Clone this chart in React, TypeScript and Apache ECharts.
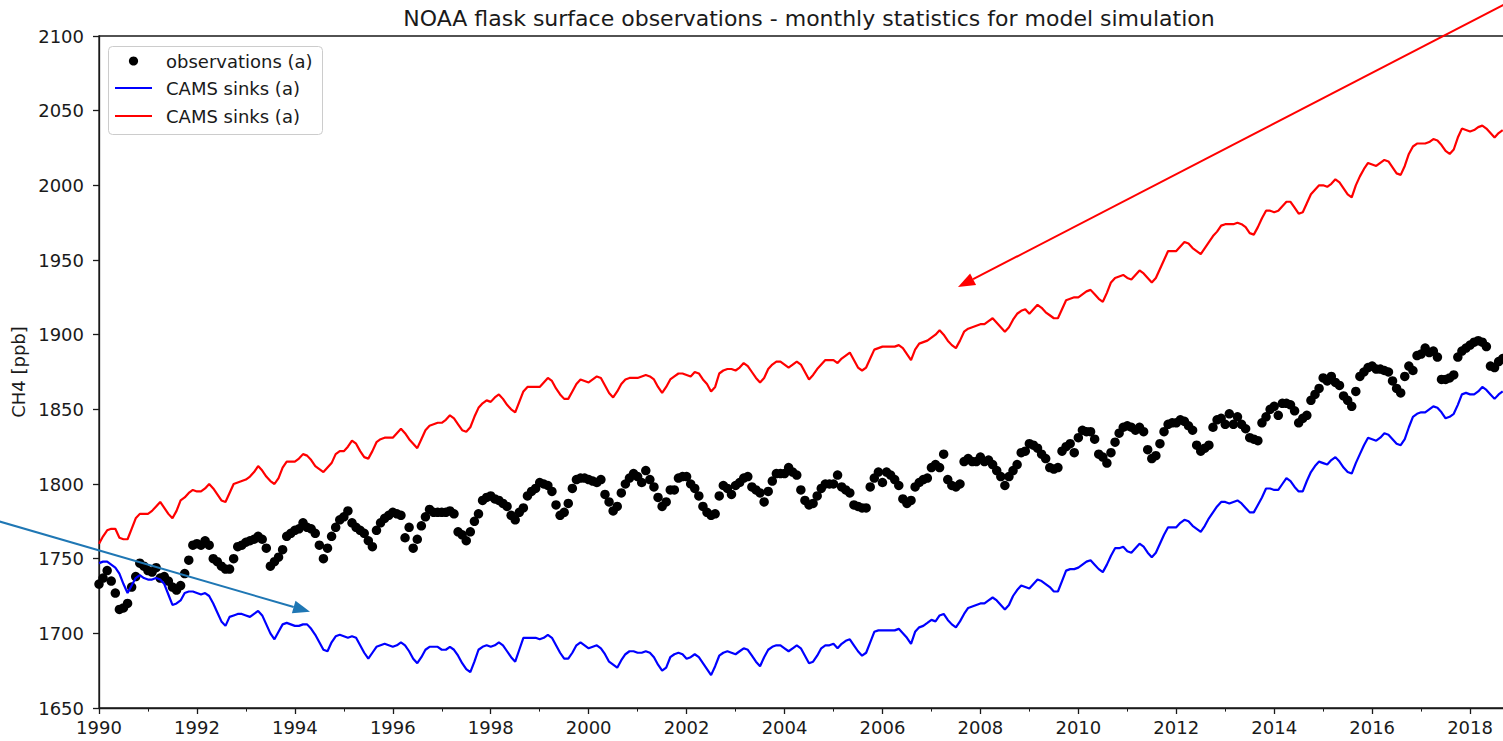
import React, { useEffect, useRef } from "react";
import * as echarts from "echarts";

const FONT = '"DejaVu Sans", "Liberation Sans", sans-serif';
const INK = "#1a1a1a";

const TITLE = "NOAA flask surface observations - monthly statistics for model simulation";
const Y_NAME = "CH4 [ppb]";
const LEGEND_LABELS = ["observations (a)", "CAMS sinks (a)", "CAMS sinks (a)"];

// axis extents (decimal years, ppb)
const X_RANGE = [1990, 2020];
const X_TICK_STEP = 2;
const X_LAST_LABEL = 2018;
const Y_RANGE = [1650, 2100];
const Y_TICK_STEP = 50;

// monthly values, first entry = January 1990
const START_YEAR = 1990;

const observations = [
  1733, 1737, 1742, 1735, 1727, 1716, 1717, 1720, 1731, 1738, 1747, 1745,
  1742, 1741, 1744, 1737, 1738, 1735, 1731, 1729, 1732, 1740, 1749, 1759,
  1760, 1759, 1762, 1759, 1750, 1748, 1745, 1743, 1743, 1750, 1758, 1759,
  1761, 1762, 1763, 1765, 1763, 1757, 1745, 1748, 1751, 1756, 1765, 1767,
  1769, 1770, 1774, 1771, 1770, 1767, 1759, 1750, 1757, 1765, 1771, 1776,
  1778, 1782, 1774, 1771, 1769, 1767, 1762, 1758, 1769, 1774, 1777,
  1779, 1781, 1780, 1779, 1764, 1771, 1757, 1763, 1772, 1778, 1783, 1781,
  1781, 1781, 1781, 1782, 1780, 1768, 1766, 1762, 1768, 1775, 1780, 1789,
  1791, 1792, 1790, 1789, 1787, 1785, 1779, 1776, 1781, 1784, 1792, 1795,
  1797, 1801, 1800, 1799, 1795, 1786, 1779, 1781, 1787, 1797, 1803, 1804,
  1804, 1803, 1802, 1801, 1803, 1793, 1788, 1782, 1785, 1794, 1800, 1804,
  1807, 1805, 1801, 1809, 1803, 1798, 1791, 1785, 1788, 1796, 1796, 1804,
  1805, 1805, 1800, 1797, 1792, 1785, 1781, 1779, 1780, 1792, 1799, 1797,
  1793, 1799, 1801, 1804, 1805, 1798, 1796, 1794, 1788, 1795, 1802, 1807,
  1807, 1807, 1811, 1808, 1806, 1796, 1789, 1786, 1787, 1792, 1797, 1800,
  1800, 1800, 1806, 1798, 1796, 1794, 1786, 1785, 1784, 1784, 1798, 1804,
  1808, 1801, 1808, 1806, 1803, 1799, 1790, 1787, 1789, 1798, 1801, 1803,
  1804, 1811, 1813, 1811, 1820, 1803, 1799, 1798, 1800, 1815, 1817,
  1815, 1815, 1818, 1815, 1816, 1813, 1809, 1805, 1799, 1805, 1809, 1813,
  1821, 1822, 1827, 1826, 1824, 1820, 1817, 1811, 1810, 1811, 1822, 1825,
  1827, 1821, 1831, 1836, 1835, 1835, 1830, 1820, 1818, 1814, 1821, 1828,
  1834, 1838, 1839, 1838, 1836, 1838, 1835, 1823, 1817, 1819, 1827, 1835,
  1840, 1841, 1841, 1843, 1842, 1839, 1836, 1826, 1822, 1824, 1826, 1838,
  1843, 1844, 1840, 1847, 1840, 1845, 1840, 1837, 1831, 1830, 1829, 1841,
  1845, 1850, 1852, 1846, 1854, 1854, 1853, 1849, 1841, 1844, 1846, 1856,
  1860, 1864, 1871, 1869, 1872, 1868, 1866, 1859, 1856, 1852, 1862, 1872,
  1875, 1878, 1879, 1877, 1877, 1876, 1875, 1869, 1864, 1861, 1872, 1879,
  1876, 1886, 1887, 1891, 1888, 1889, 1885, 1870, 1870, 1871, 1873, 1885,
  1889, 1891, 1893, 1895, 1896, 1895, 1892, 1879, 1878, 1882, 1884,
];

const camsSinksBlue = [
  1747, 1748, 1748, 1746, 1744, 1740, 1733, 1727, 1732, 1737, 1739, 1737,
  1736, 1736, 1737, 1736, 1733, 1726, 1719, 1720, 1722, 1727, 1728, 1728,
  1727, 1726, 1727, 1725, 1720, 1714, 1708, 1705, 1711, 1712, 1713, 1713,
  1712, 1711, 1713, 1715, 1712, 1706, 1700, 1696, 1701, 1706, 1707, 1706,
  1705, 1705, 1706, 1706, 1703, 1699, 1694, 1689, 1688, 1694, 1698, 1699,
  1698, 1697, 1698, 1697, 1692, 1687, 1683, 1687, 1691, 1692, 1693,
  1692, 1691, 1692, 1694, 1692, 1688, 1683, 1680, 1684, 1689, 1691, 1691,
  1691, 1689, 1689, 1691, 1689, 1685, 1680, 1676, 1674, 1681, 1689, 1691,
  1692, 1691, 1692, 1694, 1692, 1688, 1684, 1681, 1689, 1697, 1697, 1697,
  1697, 1696, 1697, 1699, 1697, 1692, 1687, 1683, 1683, 1687, 1692, 1694,
  1692, 1690, 1691, 1692, 1690, 1686, 1681, 1679, 1677, 1682, 1686, 1688,
  1688, 1687, 1687, 1688, 1687, 1684, 1679, 1675, 1677, 1684, 1686, 1687,
  1686, 1683, 1684, 1686, 1684, 1680, 1676, 1672, 1678, 1685, 1687, 1688,
  1687, 1686, 1688, 1690, 1689, 1685, 1681, 1678, 1684, 1689, 1691, 1692,
  1692, 1690, 1688, 1690, 1692, 1690, 1685, 1680, 1681, 1685, 1690, 1692,
  1692, 1693, 1690, 1693, 1695, 1696, 1692, 1688, 1685, 1687, 1694, 1701,
  1702, 1702, 1702, 1702, 1702, 1703, 1700, 1697, 1693, 1701, 1704, 1705,
  1707, 1709, 1708, 1712, 1713, 1709, 1706, 1704, 1708, 1713, 1717,
  1718, 1719, 1720, 1720, 1722, 1724, 1722, 1719, 1716, 1719, 1725, 1729,
  1732, 1731, 1730, 1733, 1736, 1735, 1733, 1731, 1728, 1728, 1735, 1742,
  1743, 1743, 1744, 1746, 1748, 1749, 1746, 1743, 1741, 1746, 1752, 1757,
  1757, 1758, 1755, 1754, 1757, 1760, 1758, 1754, 1751, 1754, 1760, 1766,
  1771, 1771, 1771, 1774, 1776, 1775, 1772, 1770, 1768, 1772, 1777, 1781,
  1785, 1788, 1788, 1787, 1788, 1789, 1787, 1784, 1781, 1781, 1786, 1791,
  1797, 1797, 1796, 1796, 1800, 1804, 1802, 1798, 1795, 1795, 1802, 1808,
  1812, 1815, 1814, 1813, 1816, 1818, 1815, 1811, 1808, 1807, 1814, 1820,
  1826, 1831, 1830, 1829, 1831, 1834, 1833, 1830, 1827, 1826, 1830, 1838,
  1845, 1847, 1848, 1848, 1850, 1852, 1851, 1848, 1844, 1845, 1847, 1853,
  1860, 1861, 1860, 1860, 1862, 1865, 1863, 1860, 1857, 1860, 1862,
];

const camsSinksRed = [
  1760, 1765, 1769, 1770, 1770, 1764, 1763, 1763, 1770, 1777, 1780, 1780,
  1780, 1782, 1785, 1788, 1784, 1780, 1777, 1782, 1789, 1791, 1794, 1796,
  1795, 1795, 1797, 1800, 1797, 1793, 1789, 1788, 1794, 1800, 1801, 1802,
  1803, 1805, 1808, 1812, 1809, 1805, 1802, 1800, 1804, 1811, 1815, 1815,
  1815, 1817, 1820, 1819, 1816, 1812, 1810, 1808, 1811, 1814, 1820, 1822,
  1822, 1825, 1829, 1827, 1822, 1818, 1817, 1822, 1828, 1830, 1831,
  1831, 1831, 1834, 1837, 1834, 1830, 1827, 1824, 1830, 1836, 1839, 1840,
  1841, 1841, 1843, 1846, 1844, 1840, 1836, 1835, 1838, 1845, 1851, 1854,
  1856, 1855, 1858, 1860, 1857, 1853, 1850, 1848, 1855, 1862, 1865, 1865,
  1865, 1865, 1868, 1871, 1869, 1864, 1860, 1857, 1857, 1862, 1867, 1870,
  1869, 1868, 1870, 1872, 1871, 1866, 1861, 1858, 1862, 1867, 1870, 1871,
  1871, 1871, 1872, 1873, 1872, 1870, 1865, 1861, 1865, 1870, 1872, 1874,
  1874, 1873, 1872, 1875, 1874, 1870, 1867, 1862, 1865, 1874, 1876, 1877,
  1877, 1876, 1878, 1881, 1879, 1875, 1871, 1868, 1871, 1877, 1880, 1882,
  1882, 1880, 1878, 1880, 1882, 1880, 1875, 1870, 1873, 1877, 1880, 1883,
  1883, 1883, 1881, 1884, 1886, 1888, 1883, 1878, 1876, 1878, 1884, 1890,
  1891, 1892, 1892, 1892, 1892, 1893, 1891, 1887, 1883, 1890, 1894, 1895,
  1896, 1898, 1900, 1903, 1900, 1896, 1893, 1891, 1896, 1902, 1904,
  1905, 1906, 1907, 1907, 1909, 1911, 1908, 1905, 1902, 1905, 1910, 1914,
  1916, 1917, 1914, 1917, 1920, 1918, 1915, 1913, 1911, 1911, 1917, 1923,
  1924, 1925, 1925, 1927, 1929, 1930, 1927, 1924, 1922, 1928, 1935, 1938,
  1939, 1940, 1938, 1937, 1940, 1943, 1941, 1938, 1935, 1938, 1944, 1950,
  1956, 1956, 1956, 1959, 1962, 1961, 1958, 1956, 1954, 1958, 1962, 1966,
  1969, 1973, 1974, 1974, 1974, 1975, 1974, 1972, 1968, 1967, 1972, 1978,
  1983, 1983, 1982, 1983, 1986, 1989, 1989, 1985, 1981, 1982, 1988, 1994,
  1997, 2000, 2000, 1999, 2001, 2004, 2002, 1998, 1994, 1992, 2000, 2006,
  2011, 2015, 2014, 2013, 2015, 2017, 2016, 2012, 2008, 2007, 2013, 2021,
  2026, 2028, 2028, 2028, 2029, 2031, 2030, 2027, 2023, 2021, 2024, 2032,
  2038, 2037, 2036, 2037, 2039, 2040, 2038, 2035, 2032, 2035, 2037,
];

// pair each monthly value with its decimal-year position
const toSeries = (values: number[]) =>
  values.map((v, i) => [START_YEAR + i / 12, v]);

// arrowhead triangle from tail/tip, in pixels
function arrowHead(tail: number[], tip: number[], len: number, half: number) {
  const dx = tip[0] - tail[0];
  const dy = tip[1] - tail[1];
  const d = Math.hypot(dx, dy);
  const ux = dx / d;
  const uy = dy / d;
  const bx = tip[0] - ux * len;
  const by = tip[1] - uy * len;
  return {
    base: [bx, by],
    points: [
      [tip[0], tip[1]],
      [bx - uy * half, by + ux * half],
      [bx + uy * half, by - ux * half],
    ],
  };
}

function arrow(tail: number[], tip: number[], color: string) {
  const head = arrowHead(tail, tip, 17, 6.5);
  return [
    {
      type: "line",
      z: 200,
      shape: { x1: tail[0], y1: tail[1], x2: head.base[0], y2: head.base[1] },
      style: { stroke: color, lineWidth: 2 },
    },
    {
      type: "polygon",
      z: 200,
      shape: { points: head.points },
      style: { fill: color },
    },
  ];
}

function legend() {
  const rows = [61, 88, 116];
  const children: any[] = [
    {
      type: "rect",
      shape: { x: 108.5, y: 46.5, width: 214, height: 88, r: 4 },
      style: { fill: "rgba(255,255,255,0.8)", stroke: "#cccccc", lineWidth: 1 },
    },
    {
      type: "circle",
      shape: { cx: 133.5, cy: rows[0], r: 4.6 },
      style: { fill: "#000000" },
    },
    {
      type: "line",
      shape: { x1: 115, y1: rows[1], x2: 152, y2: rows[1] },
      style: { stroke: "#0000ff", lineWidth: 2.2 },
    },
    {
      type: "line",
      shape: { x1: 115, y1: rows[2], x2: 152, y2: rows[2] },
      style: { stroke: "#ff0000", lineWidth: 2.2 },
    },
  ];
  LEGEND_LABELS.forEach((label, i) => {
    children.push({
      type: "text",
      x: 166,
      y: rows[i],
      style: {
        text: label,
        fill: INK,
        font: `18px ${FONT}`,
        textAlign: "left",
        textVerticalAlign: "middle",
      },
    });
  });
  return { type: "group", z: 150, children };
}

export default function App() {
  const ref = useRef<HTMLDivElement>(null);

  useEffect(() => {
    if (!ref.current) return;
    const chart = echarts.init(ref.current, undefined, { renderer: "svg" });

    const axisLine = { show: true, lineStyle: { color: INK, width: 1.3 } };
    const axisTick = { show: true, length: 6, lineStyle: { color: INK, width: 1.3 } };

    chart.setOption({
      animation: false,
      backgroundColor: "#ffffff",
      grid: {
        left: 99,
        top: 36,
        // the frame runs past the right edge of the page (to 2020)
        width: 1469,
        height: 672,
        outerBoundsMode: "none",
        containLabel: false,
        show: true,
        borderColor: INK,
        borderWidth: 1.3,
        backgroundColor: "transparent",
      },
      xAxis: {
        type: "value",
        min: X_RANGE[0],
        max: X_RANGE[1],
        interval: X_TICK_STEP,
        axisLine,
        axisTick,
        minorTick: {
          show: true,
          splitNumber: 2,
          length: 3.6,
          lineStyle: { color: INK, width: 1 },
        },
        splitLine: { show: false },
        minorSplitLine: { show: false },
        axisLabel: {
          fontFamily: FONT,
          fontSize: 18,
          color: INK,
          margin: 10,
          formatter: (v: number) => (v <= X_LAST_LABEL ? String(v) : ""),
        },
      },
      yAxis: {
        type: "value",
        min: Y_RANGE[0],
        max: Y_RANGE[1],
        interval: Y_TICK_STEP,
        name: Y_NAME,
        nameLocation: "middle",
        nameRotate: 90,
        nameGap: 65,
        nameTextStyle: { fontFamily: FONT, fontSize: 18, color: INK },
        axisLine,
        axisTick,
        splitLine: { show: false },
        axisLabel: {
          fontFamily: FONT,
          fontSize: 18,
          color: INK,
          margin: 15,
          formatter: (v: number) => String(v),
        },
      },
      series: [
        {
          name: LEGEND_LABELS[0],
          type: "scatter",
          data: toSeries(observations),
          symbol: "circle",
          symbolSize: 9.5,
          itemStyle: { color: "#000000", opacity: 1 },
          z: 2,
        },
        {
          name: LEGEND_LABELS[1],
          type: "line",
          data: toSeries(camsSinksBlue),
          showSymbol: false,
          symbol: "none",
          lineStyle: { color: "#0000ff", width: 2.2 },
          z: 3,
        },
        {
          name: LEGEND_LABELS[2],
          type: "line",
          data: toSeries(camsSinksRed),
          showSymbol: false,
          symbol: "none",
          lineStyle: { color: "#ff0000", width: 2.2 },
          z: 4,
        },
      ],
      graphic: [
        {
          type: "text",
          x: 809,
          y: 18,
          z: 100,
          style: {
            text: TITLE,
            fill: INK,
            font: `22px ${FONT}`,
            textAlign: "center",
            textVerticalAlign: "middle",
          },
        },
        legend(),
        ...arrow([-5, 520.2], [310, 611.7], "#1f77b4"),
        ...arrow([1515, -1], [958, 287], "#ff0000"),
      ],
    });

    return () => chart.dispose();
  }, []);

  return (
    <div
      ref={ref}
      style={{ position: "fixed", left: 0, top: 0, width: 1503, height: 741 }}
    />
  );
}
